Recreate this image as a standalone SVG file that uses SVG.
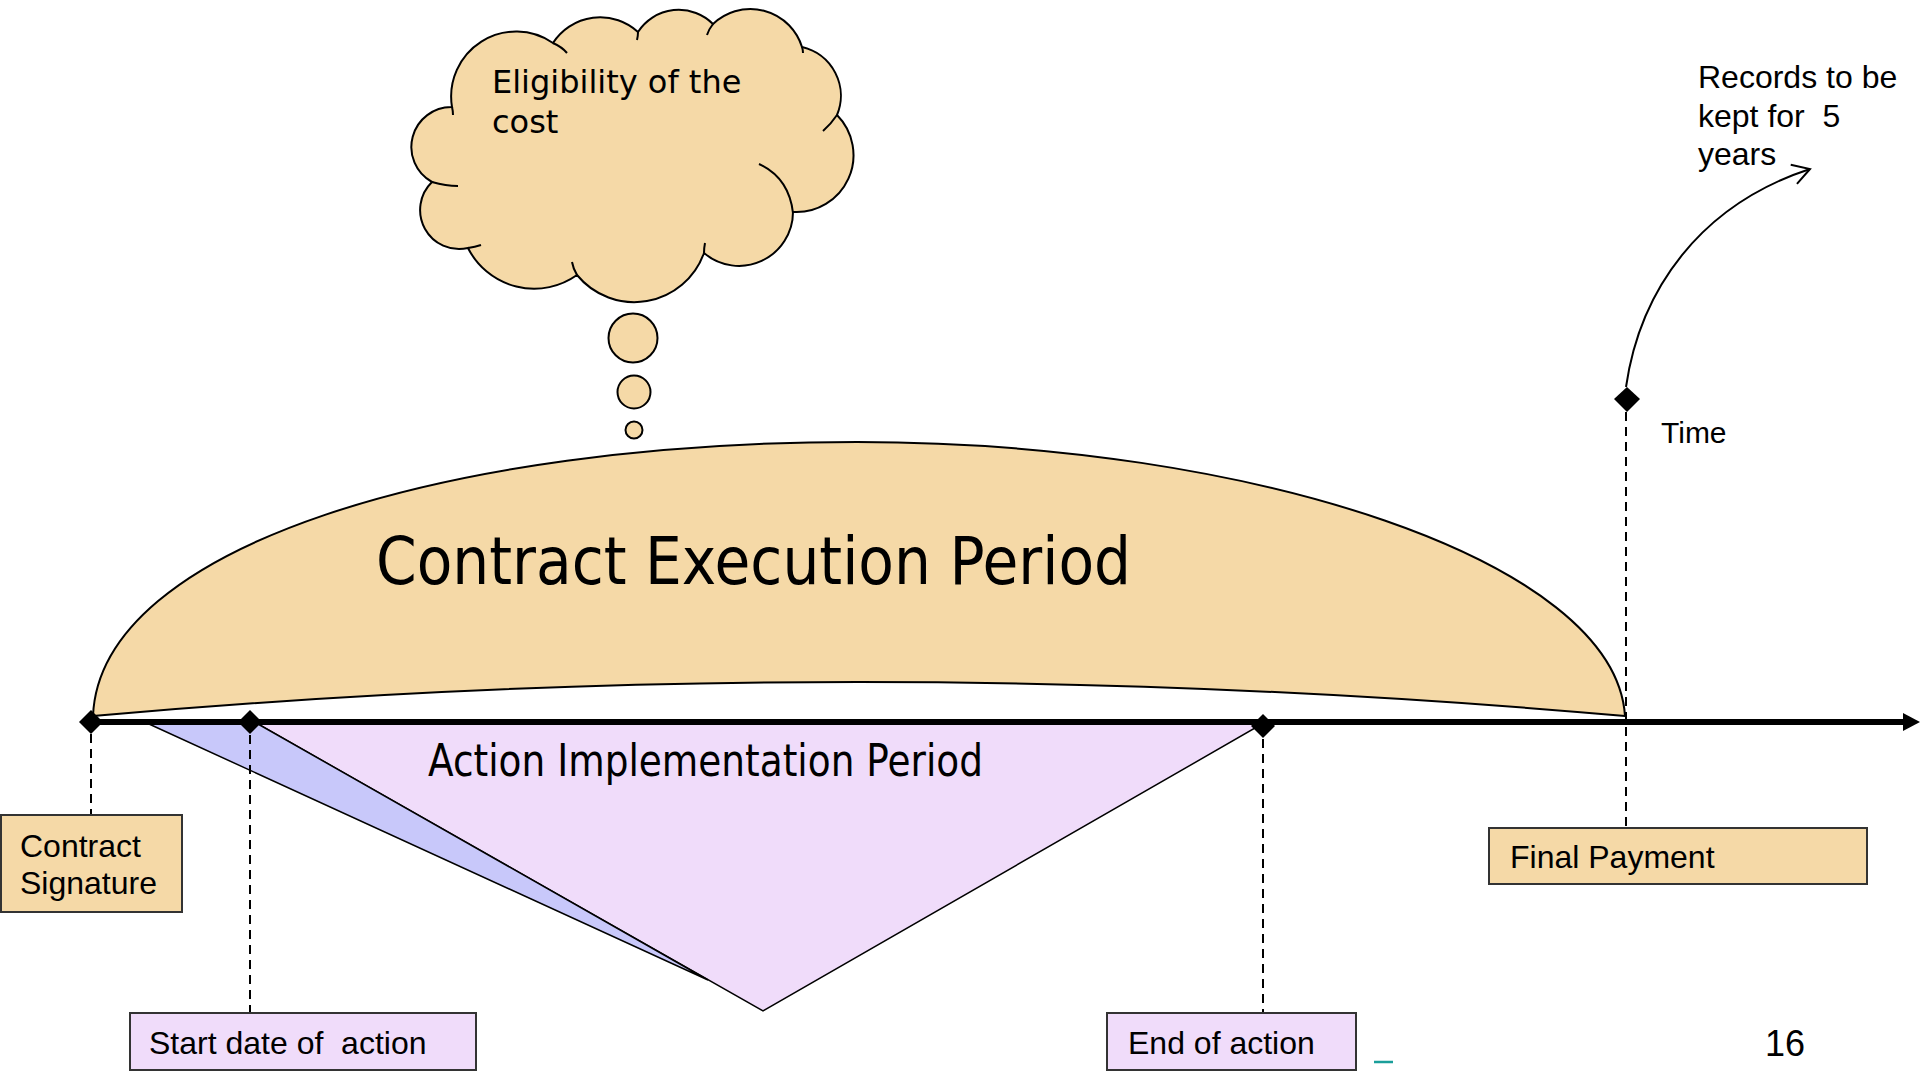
<svg xmlns="http://www.w3.org/2000/svg" width="1920" height="1074" viewBox="0 0 1920 1074">
<style>
.wheat{fill:#F5D9A7;stroke:#000;stroke-width:2}
.box{stroke:#333;stroke-width:2}
.dash{stroke:#000;stroke-width:2;stroke-dasharray:9,6;fill:none}
.dia{fill:#000}
.arial{font-family:"Liberation Sans",Arial,sans-serif;fill:#000;white-space:pre}
.lbl{font-size:32px}
.verd{font-family:"DejaVu Sans",Verdana,sans-serif;fill:#000}
.ov{fill:none;stroke:#000;stroke-width:2}
</style>
<defs>
<marker id="openArrow" markerUnits="userSpaceOnUse" markerWidth="22" markerHeight="22" refX="18" refY="10" orient="auto" overflow="visible">
<path d="M1,0 L18,10 L1,20" fill="none" stroke="#000" stroke-width="2"/>
</marker>
<marker id="solidArrow" markerUnits="userSpaceOnUse" markerWidth="20" markerHeight="20" refX="0" refY="9" orient="auto" overflow="visible">
<path d="M0,0 L17,9 L0,18 Z" fill="#000"/>
</marker>
</defs>
<rect width="1920" height="1074" fill="#fff"/>

<g id="execution-period">
<path class="wheat" d="M93,716 C100,545 450,442 857,442 C1250,442 1615,560 1625,716 Q857,648 93,716 Z"/>
<text class="verd" x="376" y="584" font-size="66" textLength="755" lengthAdjust="spacingAndGlyphs">Contract Execution Period</text>
</g>

<g id="implementation-period">
<polygon points="258,724 1262,724 763,1011" fill="#F0DCFA" stroke="#000" stroke-width="1.5"/>
<polygon points="149,724 258,724 708,980" fill="#C8C8FA" stroke="#000" stroke-width="1.5"/>
<text class="verd" x="428" y="776" font-size="44" textLength="555" lengthAdjust="spacingAndGlyphs">Action Implementation Period</text>
</g>

<g id="cloud">
<path class="wheat" d="M452,107 A65,65 0 0,1 553,43 A56,56 0 0,1 638,32 A48.5,48.5 0 0,1 713,24 A54,54 0 0,1 802,47 A50,50 0 0,1 837,115 A57,57 0 0,1 793,212 A54,54 0 0,1 704,253 A74,74 0 0,1 577,275 A74,74 0 0,1 468,248 A39,39 0 0,1 432,182 A40,40 0 0,1 452,107 Z"/>
<path class="ov" d="M553,43 Q562,47 567,53 M638,32 Q638,36 637,40 M713,24 Q709,29 707,35 M802,47 Q803,50 803,53 M837,115 Q831,124 823,131 M759,164 Q789,178 793,213 M704,253 Q704,248 705,243 M577,275 Q573,268 572,262 M468,248 Q475,247 481,245 M432,182 Q446,186 458,186 M452,107 Q453,111 453,115"/>
<circle class="wheat" cx="633" cy="338" r="24.5"/>
<circle class="wheat" cx="634" cy="392" r="16.5"/>
<circle class="wheat" cx="634" cy="430" r="8.5"/>
<text class="verd" font-size="32"><tspan x="492" y="93">Eligibility of the</tspan><tspan x="492" y="133">cost</tspan></text>
</g>

<g id="connectors">
<line x1="91" y1="722" x2="1903" y2="722" stroke="#000" stroke-width="6" marker-end="url(#solidArrow)"/>
<line class="dash" x1="91" y1="734" x2="91" y2="815"/>
<line class="dash" x1="250" y1="735" x2="250" y2="1013"/>
<line class="dash" x1="1263" y1="739" x2="1263" y2="1013"/>
<line class="dash" x1="1626" y1="412" x2="1626" y2="827"/>
<path d="M1626,387 C1640,290 1700,205 1810,169" fill="none" stroke="#000" stroke-width="2" marker-end="url(#openArrow)"/>
</g>

<g id="milestones">
<polygon class="dia" points="91,710 103,722 91,734 79,722"/>
<polygon class="dia" points="250,710 262,722 250,734 238,722"/>
<polygon class="dia" points="1263,714 1275,726 1263,738 1251,726"/>
<polygon class="dia" points="1627,387 1640,399 1627,412 1614,399"/>
</g>

<g id="contract-signature">
<rect class="box" x="1" y="815" width="181" height="97" fill="#F5D9A7"/>
<text class="arial lbl"><tspan x="20" y="857">Contract</tspan><tspan x="20" y="894">Signature</tspan></text>
</g>

<g id="start-date">
<rect class="box" x="130" y="1013" width="346" height="57" fill="#F0DCFA"/>
<text class="arial lbl" x="149" y="1054" xml:space="preserve">Start date of  action</text>
</g>

<g id="end-of-action">
<rect class="box" x="1107" y="1013" width="249" height="57" fill="#F0DCFA"/>
<text class="arial lbl" x="1128" y="1054">End of action</text>
</g>

<g id="final-payment">
<rect class="box" x="1489" y="828" width="378" height="56" fill="#F5D9A7"/>
<text class="arial lbl" x="1510" y="868">Final Payment</text>
</g>

<g id="time-label">
<text class="arial" x="1661" y="443" font-size="30">Time</text>
</g>

<g id="records-note">
<text class="arial lbl" xml:space="preserve"><tspan x="1698" y="88">Records to be</tspan><tspan x="1698" y="127">kept for  5</tspan><tspan x="1698" y="165">years</tspan></text>
</g>

<g id="page-number">
<text class="arial" x="1765" y="1056" font-size="36">16</text>
<line x1="1374" y1="1062" x2="1393" y2="1062" stroke="#1A9E9A" stroke-width="2.5"/>
</g>
</svg>
